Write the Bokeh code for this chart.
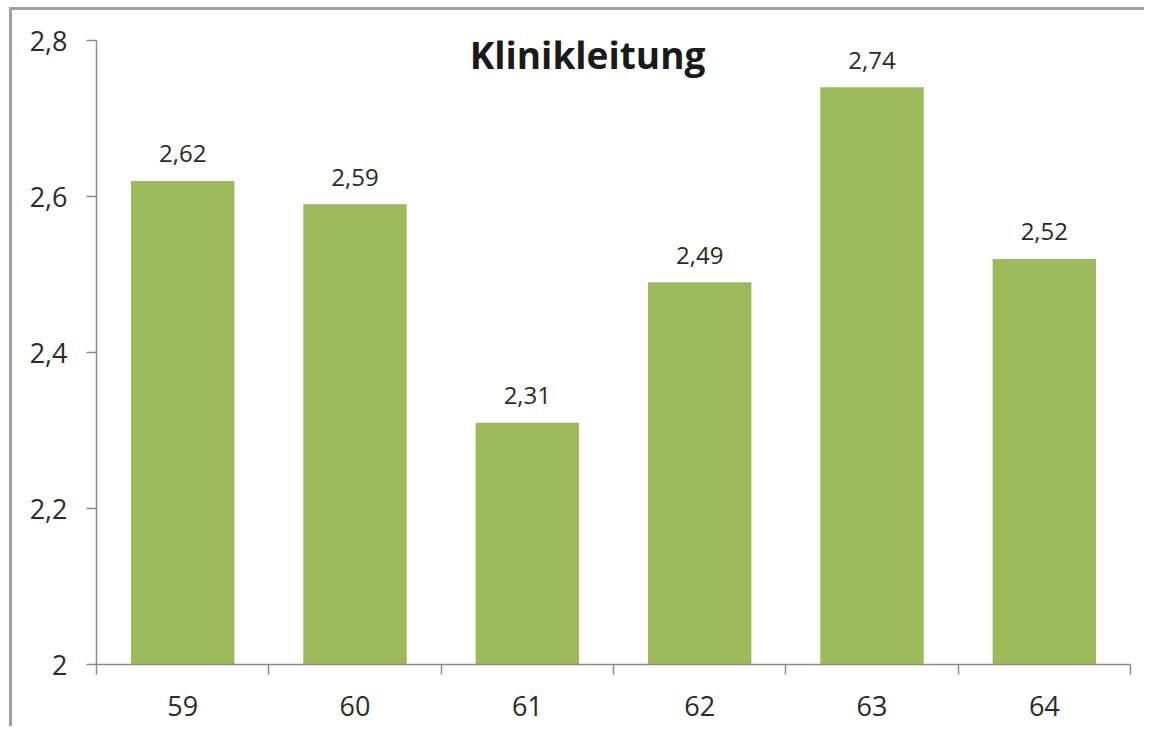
from bokeh.plotting import figure
from bokeh.models import FixedTicker, Range1d, Label, ColumnDataSource
from bokeh.core.properties import value
from bokeh.embed import file_html
from bokeh.resources import INLINE

# Chart data
categories = ["59", "60", "61", "62", "63", "64"]
scores = [2.62, 2.59, 2.31, 2.49, 2.74, 2.52]
y_ticks = [2.0, 2.2, 2.4, 2.6, 2.8]
y_tick_labels = ["2", "2,2", "2,4", "2,6", "2,8"]
title_text = "Klinikleitung"

FONT = "Open Sans"
BAR_COLOR = "#9BBB59"
AXIS_COLOR = "#8a8a8a"
TEXT_COLOR = "#2b2b2b"

n = len(categories)
centers = [i + 0.5 for i in range(n)]
source = ColumnDataSource(dict(
    x=centers,
    top=scores,
    label=[f"{v:.2f}".replace(".", ",") for v in scores],
))

p = figure(
    width=1135, height=719, title=None,
    x_range=Range1d(0, n), y_range=Range1d(y_ticks[0], y_ticks[-1]),
    output_backend="svg", toolbar_location=None,
    min_border_left=84, min_border_right=17, min_border_top=30, min_border_bottom=65,
)
# chart-area frame line along the top and left edges
p.styles = {
    "transform": "translate(12px, 10px)",
    "box-shadow": "-3px -3px 0 0 #a0a0a0",
}
p.outline_line_color = None
p.xgrid.visible = False
p.ygrid.visible = False
p.background_fill_color = "white"
p.border_fill_color = "white"

p.vbar(x="x", top="top", bottom=y_ticks[0], width=0.6, source=source,
       fill_color=BAR_COLOR, line_color=None)

p.text(x="x", y="top", text="label", source=source,
       text_font=value(FONT), text_font_size="24px", text_color=TEXT_COLOR,
       text_align="center", text_baseline="alphabetic", y_offset=-27)

# x axis: labels centred under bars, tick marks between categories
xa = p.xaxis[0]
xa.ticker = FixedTicker(ticks=centers, minor_ticks=list(range(n + 1)))
xa.major_label_overrides = {c: cat for c, cat in zip(centers, categories)}
xa.major_tick_out = 0
xa.major_tick_in = 0
xa.minor_tick_out = 10
xa.minor_tick_in = 0
xa.axis_line_color = AXIS_COLOR
xa.minor_tick_line_color = AXIS_COLOR
xa.axis_line_width = 1.5
xa.minor_tick_line_width = 1.5
xa.major_label_text_font = FONT
xa.major_label_text_font_size = "27px"
xa.major_label_text_color = TEXT_COLOR
xa.major_label_standoff = 21

ya = p.yaxis[0]
ya.ticker = FixedTicker(ticks=y_ticks, minor_ticks=[])
ya.major_label_overrides = {t: s for t, s in zip(y_ticks, y_tick_labels)}
ya.major_tick_out = 10
ya.major_tick_in = 0
ya.axis_line_color = AXIS_COLOR
ya.major_tick_line_color = AXIS_COLOR
ya.axis_line_width = 1.5
ya.major_tick_line_width = 1.5
ya.major_label_text_font = FONT
ya.major_label_text_font_size = "27px"
ya.major_label_text_color = TEXT_COLOR
ya.major_label_standoff = 19

p.add_layout(Label(
    x=575, y=44, x_units="canvas", y_units="canvas",
    text=title_text, text_font=FONT, text_font_size="37px", text_font_style="bold",
    text_color="#1a1a1a", text_align="center", text_baseline="alphabetic",
))

open("out.html", "w").write(file_html(p, INLINE))
